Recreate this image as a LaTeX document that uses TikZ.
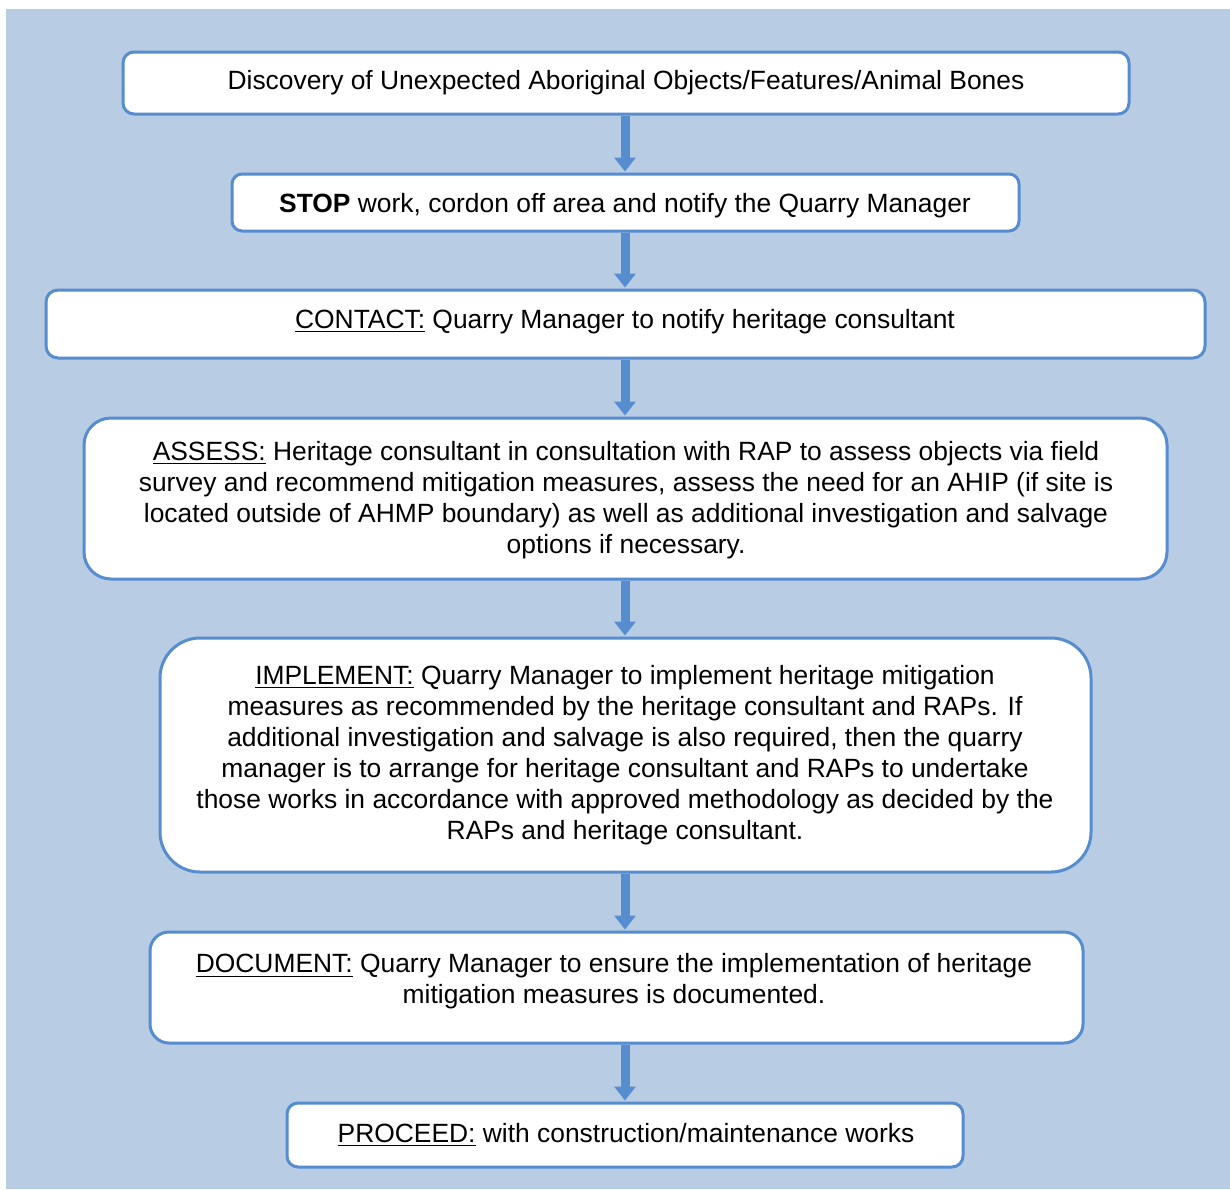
\documentclass[tikz,border=0pt]{standalone}
\usepackage{fontspec}
\setmainfont{Liberation Sans}
\usetikzlibrary{arrows.meta}
\definecolor{bgblue}{RGB}{184,204,228}
\definecolor{edgeblue}{RGB}{86,141,207}
\tikzset{
  stepbox/.style={draw=edgeblue, fill=white, line width=1.5pt, inner sep=0pt},
  steptext/.style={align=center, inner sep=0pt, yshift=-1.5pt, font=\fontsize{13.2}{15.5}\selectfont},
  flowarrow/.style={draw=edgeblue, line width=4.5pt, -{Triangle[width=10.5pt,length=7pt]}, shorten >=0.5pt}
}
\begin{document}
\begin{tikzpicture}[x=0.5pt,y=-0.5pt]
\useasboundingbox[fill=white] (0,0) rectangle (1230,1189);
\fill[bgblue] (6,9) rectangle (1230,1189);

\node[stepbox, rounded corners=5.5pt, minimum width=503pt, minimum height=31pt] (b1) at (626,83) {};
\node[stepbox, rounded corners=5pt, minimum width=393.5pt, minimum height=28.5pt] (b2) at (625.5,202.5) {};
\node[stepbox, rounded corners=6pt, minimum width=579.5pt, minimum height=34pt] (b3) at (625.5,324) {};
\node[stepbox, rounded corners=13.5pt, minimum width=541.5pt, minimum height=80.5pt] (b4) at (625.5,498.5) {};
\node[stepbox, rounded corners=20pt, minimum width=465.5pt, minimum height=117pt] (b5) at (625.5,755) {};
\node[stepbox, rounded corners=9.5pt, minimum width=466.5pt, minimum height=55.5pt] (b6) at (616.5,987.5) {};
\node[stepbox, rounded corners=5.5pt, minimum width=338pt, minimum height=32pt] (b7) at (625,1135) {};

\node[steptext] (t1) at (626,80) {Discovery of Unexpected Aboriginal Objects/Features/Animal Bones};
\node[steptext] (t2) at (625,203) {\textbf{STOP} work, cordon off area and notify the Quarry Manager};
\node[steptext] (t3) at (625,319) {\underline{CONTACT:} Quarry Manager to notify heritage consultant};
\node[steptext] (t4) at (626,497) {\underline{ASSESS:} Heritage consultant in consultation with RAP to assess objects via field\\survey and recommend mitigation measures, assess the need for an AHIP (if site is\\located outside of AHMP boundary) as well as additional investigation and salvage\\options if necessary.};
\node[steptext] (t5) at (625,752) {\underline{IMPLEMENT:} Quarry Manager to implement heritage mitigation\\measures as recommended by the heritage consultant and RAPs. If\\additional investigation and salvage is also required, then the quarry\\manager is to arrange for heritage consultant and RAPs to undertake\\those works in accordance with approved methodology as decided by the\\RAPs and heritage consultant.};
\node[steptext] (t6) at (614,978.5) {\underline{DOCUMENT:} Quarry Manager to ensure the implementation of heritage\\mitigation measures is documented.};
\node[steptext] (t7) at (626,1132) {\underline{PROCEED:} with construction/maintenance works};

\draw[flowarrow] (b1.south -| 625,0) -- (b2.north -| 625,0);
\draw[flowarrow] (b2.south -| 625,0) -- (b3.north -| 625,0);
\draw[flowarrow] (b3.south -| 625,0) -- (b4.north -| 625,0);
\draw[flowarrow] (b4.south -| 625,0) -- (b5.north -| 625,0);
\draw[flowarrow] (b5.south -| 625,0) -- (b6.north -| 625,0);
\draw[flowarrow] (b6.south -| 625,0) -- (b7.north -| 625,0);
\end{tikzpicture}
\end{document}
